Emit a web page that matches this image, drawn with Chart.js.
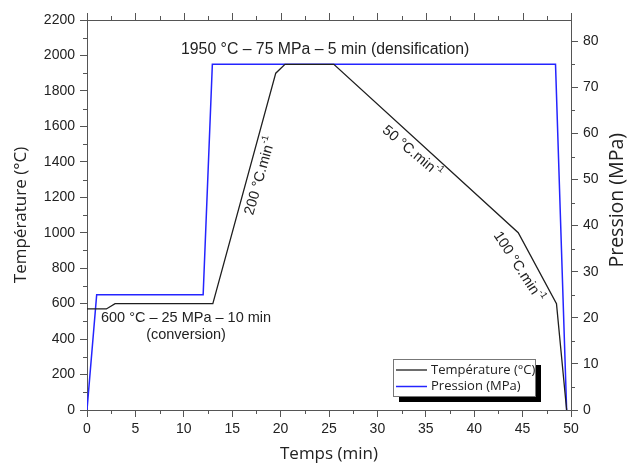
<!DOCTYPE html>
<html>
<head>
<meta charset="utf-8">
<script src="https://cdn.jsdelivr.net/npm/chart.js@4/dist/chart.umd.min.js"></script>
<style>
    html, body { margin: 0; padding: 0; background: #fff; }
    #wrap { width: 627px; height: 463px; }
</style>
</head>
<body>
<div id="wrap"><canvas id="myChart" width="627" height="463"></canvas></div>
<script>
// Cycle de frittage : temps (min) / température (°C) / pression (MPa)
const tempTime = [0, 2.0, 2.9, 13.0, 19.5, 20.45, 25.5, 44.55, 48.5, 49.55];
const tempValues = [570, 570, 600, 600, 1900, 1950, 1950, 1000, 600, 0];

const presTime = [0, 1.0, 12.0, 12.95, 48.4, 49.55];
const presValues = [0, 25, 25, 75, 75, 0];

const timeTicks = [0, 5, 10, 15, 20, 25, 30, 35, 40, 45, 50];
const tempTicks = [0, 200, 400, 600, 800, 1000, 1200, 1400, 1600, 1800, 2000, 2200];
const presTicks = [0, 10, 20, 30, 40, 50, 60, 70, 80];

const seriesLabels = ['Température (°C)', 'Pression (MPa)'];
const rightTitle = 'Pression (MPa)';

// 1950 °C correspond à 75 MPa sur l'axe de droite
const presMax = 2200 / 26;

const axisColor = '#555';
const textColor = '#222';
const tickFont = { family: '"Liberation Sans", Arial, sans-serif', size: 14 };
const titleFont = { family: '"Open Sans", sans-serif', size: 17, lineHeight: 1 };

// annotations (position en coordonnées de données)
const notes = [
    { text: '1950 °C – 75 MPa – 5 min (densification)', x: 24.6, y: 2031, size: 15.8 },
    { text: '600 °C – 25 MPa – 10 min', x: 10.23, y: 519, size: 14.5 },
    { text: '(conversion)', x: 10.23, y: 423, size: 14.5 }
];
const rateNotes = [
    { text: '200 °C.min', sup: '-1', x: 17.9, y: 1320, angle: -74, size: 14.5 },
    { text: '50 °C.min', sup: '-1', x: 33.54, y: 1457, angle: 40, size: 14.5 },
    { text: '100 °C.min', sup: '-1', x: 44.56, y: 808, angle: 57, size: 14.5 }
];

function toPoints(xs, ys) {
    return xs.map((t, i) => ({ x: t, y: ys[i] }));
}

function line(ctx, x1, y1, x2, y2) {
    ctx.beginPath();
    ctx.moveTo(x1, y1);
    ctx.lineTo(x2, y2);
    ctx.stroke();
}

// cadre du haut + petites graduations + titre de l'axe droit
const frameTicks = {
    id: 'frameTicks',
    afterDraw(chart) {
        const ctx = chart.ctx;
        const a = chart.chartArea;
        const sx = chart.scales.x, sy = chart.scales.y, sy1 = chart.scales.y1;
        ctx.save();
        ctx.strokeStyle = axisColor;
        ctx.lineWidth = 1;
        line(ctx, a.left, Math.round(a.top) + 0.5, a.right, Math.round(a.top) + 0.5);
        for (let v = 0; v <= 50; v += 2.5) {
            const px = Math.round(sx.getPixelForValue(v)) + 0.5;
            const major = v % 5 === 0;
            const len = major ? 7 : 4;
            line(ctx, px, a.top, px, a.top - len);
            if (!major) line(ctx, px, a.bottom, px, a.bottom + len);
        }
        for (let v = 100; v < 2200; v += 200) {
            const py = Math.round(sy.getPixelForValue(v)) + 0.5;
            line(ctx, a.left, py, a.left - 4, py);
        }
        for (let v = 5; v <= 80; v += 10) {
            const py = Math.round(sy1.getPixelForValue(v)) + 0.5;
            line(ctx, a.right, py, a.right + 4, py);
        }
        // titre axe droit, lu de bas en haut
        ctx.translate(sy1.right - 10, sy1.getPixelForValue(45.5));
        ctx.rotate(-Math.PI / 2);
        ctx.fillStyle = textColor;
        ctx.font = '19.5px ' + titleFont.family;
        ctx.textAlign = 'center';
        ctx.textBaseline = 'middle';
        ctx.fillText(rightTitle, 0, 0);
        ctx.restore();
    }
};

// textes sur le graphique
const annotations = {
    id: 'annotations',
    afterDatasetsDraw(chart) {
        const ctx = chart.ctx;
        const sx = chart.scales.x, sy = chart.scales.y;
        ctx.save();
        ctx.fillStyle = textColor;
        ctx.textAlign = 'center';
        ctx.textBaseline = 'middle';
        notes.forEach(n => {
            ctx.font = n.size + 'px "Liberation Sans", Arial, sans-serif';
            ctx.fillText(n.text, sx.getPixelForValue(n.x), sy.getPixelForValue(n.y));
        });
        rateNotes.forEach(n => {
            const mainFont = n.size + 'px "Liberation Sans", Arial, sans-serif';
            const supFont = (n.size * 0.65) + 'px "Liberation Sans", Arial, sans-serif';
            ctx.save();
            ctx.translate(sx.getPixelForValue(n.x), sy.getPixelForValue(n.y));
            ctx.rotate(n.angle * Math.PI / 180);
            ctx.textAlign = 'left';
            ctx.font = mainFont;
            const w1 = ctx.measureText(n.text).width;
            ctx.font = supFont;
            const w2 = ctx.measureText(n.sup).width;
            const start = -(w1 + w2) / 2;
            ctx.font = mainFont;
            ctx.fillText(n.text, start, 0);
            ctx.font = supFont;
            ctx.fillText(n.sup, start + w1 + 0.5, -n.size * 0.38);
            ctx.restore();
        });
        ctx.restore();
    }
};

// légende avec ombre portée
const boxLegend = {
    id: 'boxLegend',
    afterDraw(chart) {
        const ctx = chart.ctx;
        const a = chart.chartArea;
        const bx = a.right - 178, by = a.bottom - 51, bw = 142, bh = 37;
        ctx.save();
        ctx.fillStyle = '#000';
        ctx.fillRect(bx + 6, by + 6, bw, bh);
        ctx.fillStyle = '#fff';
        ctx.fillRect(bx, by, bw, bh);
        ctx.strokeStyle = '#777';
        ctx.lineWidth = 1;
        ctx.strokeRect(bx + 0.5, by + 0.5, bw, bh);
        ctx.font = '13px "Open Sans", sans-serif';
        ctx.textAlign = 'left';
        ctx.textBaseline = 'middle';
        chart.data.datasets.forEach((ds, i) => {
            const yy = by + 11 + i * 16.5;
            ctx.strokeStyle = ds.borderColor;
            ctx.lineWidth = ds.borderWidth;
            line(ctx, bx + 3, yy, bx + 34, yy);
            ctx.fillStyle = textColor;
            ctx.fillText(ds.label, bx + 38, yy);
        });
        ctx.restore();
    }
};

const plainLabel = v => String(v);

const ctx = document.getElementById('myChart');
const myChart = new Chart(ctx, {
    type: 'line',
    data: {
        datasets: [{
            label: seriesLabels[0],
            data: toPoints(tempTime, tempValues),
            borderColor: '#1e1e1e',
            borderWidth: 1.3,
            pointRadius: 0,
            tension: 0,
            yAxisID: 'y'
        }, {
            label: seriesLabels[1],
            data: toPoints(presTime, presValues),
            borderColor: '#2424ff',
            borderWidth: 1.5,
            pointRadius: 0,
            tension: 0,
            yAxisID: 'y1'
        }]
    },
    options: {
        responsive: false,
        animation: false,
        devicePixelRatio: 1,
        layout: { padding: { top: 20, left: 0, right: 0, bottom: 0 } },
        plugins: {
            legend: { display: false },
            tooltip: { enabled: false }
        },
        scales: {
            x: {
                type: 'linear',
                min: 0,
                max: 50,
                afterBuildTicks: axis => { axis.ticks = timeTicks.map(v => ({ value: v })); },
                afterFit: axis => { axis.height = 53; },
                ticks: { font: tickFont, color: textColor, padding: 4, maxRotation: 0, autoSkip: false, callback: plainLabel },
                grid: { drawOnChartArea: false, tickLength: 7, color: axisColor },
                border: { display: true, color: axisColor },
                title: { display: true, text: 'Temps (min)', font: titleFont, color: textColor, padding: { top: 0, bottom: 0 } }
            },
            y: {
                position: 'left',
                min: 0,
                max: 2200,
                afterBuildTicks: axis => { axis.ticks = tempTicks.map(v => ({ value: v })); },
                afterFit: axis => { axis.width = 87; },
                ticks: { font: tickFont, color: textColor, padding: 5, autoSkip: false, callback: plainLabel },
                grid: { drawOnChartArea: false, tickLength: 7, color: axisColor },
                border: { display: true, color: axisColor },
                title: { display: true, text: 'Température (°C)', font: titleFont, color: textColor, padding: { top: 13, bottom: 0 } }
            },
            y1: {
                position: 'right',
                min: 0,
                max: presMax,
                afterBuildTicks: axis => { axis.ticks = presTicks.map(v => ({ value: v })); },
                afterFit: axis => { axis.width = 56; },
                ticks: { font: tickFont, color: textColor, padding: 5, autoSkip: false, callback: plainLabel },
                grid: { drawOnChartArea: false, tickLength: 7, color: axisColor },
                border: { display: true, color: axisColor },
                title: { display: false }
            }
        }
    },
    plugins: [frameTicks, annotations, boxLegend]
});
</script>
</body>
</html>
